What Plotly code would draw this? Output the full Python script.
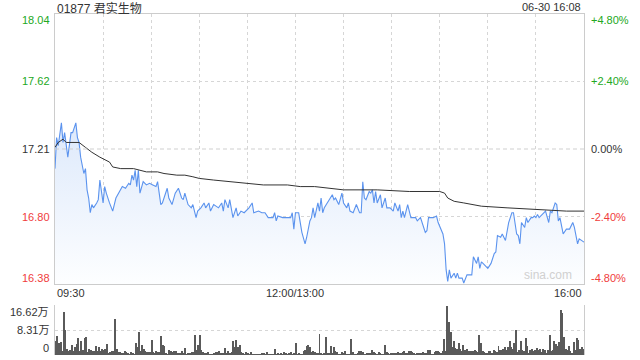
import plotly.graph_objects as go

# ---------------- data ----------------
stock_title = "01877 君实生物"
stamp = "06-30 16:08"
prev_close = 17.21
pct_limit = 0.048
vol_max = 16.62  # 万

x_tick_labels = ["09:30", "12:00/13:00", "16:00"]
x_tick_minutes = [0, 150, 330]

# trading minutes since 09:30 (lunch break removed) and price
price_minutes = [0, 1, 2, 4, 5, 6, 8, 9, 10, 11, 13, 14, 15, 16, 18, 19, 20, 21, 22, 23, 24, 26, 27, 28, 29, 30,
                 31, 32, 34, 36, 38, 41, 42, 44, 46, 47, 48, 49, 50, 51, 52, 53, 55, 57, 59, 61, 63, 64, 66, 67,
                 70, 71, 73, 75, 77, 79, 80, 81, 83, 85, 86, 88, 89, 91, 93, 94, 96, 97, 99, 102, 104, 105, 106,
                 108, 109, 111, 113, 114, 116, 118, 121, 123, 124, 127, 129, 131, 133, 136, 137, 138, 139, 142,
                 144, 147, 148, 149, 150, 152, 153, 154, 156, 157, 159, 160, 161, 162, 164, 165, 166, 167, 168,
                 170, 171, 173, 174, 175, 177, 178, 179, 180, 182, 183, 184, 186, 187, 188, 190, 191, 192, 193,
                 194, 196, 197, 198, 199, 200, 201, 203, 204, 206, 207, 209, 211, 212, 214, 215, 216, 217, 218,
                 220, 221, 222, 225, 226, 228, 230, 231, 232, 233, 236, 238, 239, 241, 242, 243, 244, 245, 246,
                 247, 249, 250, 251, 252, 254, 255, 257, 260, 261, 263, 264, 265, 266, 267, 270, 272, 274, 275,
                 276, 278, 279, 281, 282, 283, 285, 286, 288, 289, 290, 291, 293, 294, 295, 297, 298, 299, 300,
                 301, 302, 305, 306, 308, 309, 310, 312, 313, 314, 315, 317, 319, 321, 323, 324, 326, 327, 330]
price_values = [17.09, 17.28, 17.23, 17.37, 17.25, 17.31, 17.16, 17.25, 17.31, 17.31, 17.37, 17.28, 17.25, 17.16,
                17.06, 17.09, 16.96, 16.91, 16.82, 16.87, 16.85, 16.88, 16.90, 17.02, 16.96, 16.88, 16.98, 16.94,
                16.88, 16.83, 16.91, 16.96, 16.98, 16.97, 17.00, 16.99, 17.05, 17.02, 17.08, 16.98, 17.08, 16.94,
                17.01, 16.99, 17.00, 16.99, 16.98, 17.01, 16.87, 16.88, 16.97, 16.91, 16.87, 16.94, 16.97, 16.91,
                16.90, 16.94, 16.87, 16.85, 16.87, 16.79, 16.83, 16.85, 16.88, 16.85, 16.88, 16.83, 16.87, 16.85,
                16.88, 16.83, 16.90, 16.85, 16.90, 16.79, 16.85, 16.80, 16.83, 16.82, 16.85, 16.88, 16.82, 16.83,
                16.82, 16.82, 16.79, 16.79, 16.82, 16.77, 16.80, 16.79, 16.79, 16.79, 16.82, 16.72, 16.82, 16.82,
                16.76, 16.70, 16.63, 16.67, 16.77, 16.79, 16.85, 16.79, 16.88, 16.83, 16.91, 16.82, 16.85, 16.88,
                16.90, 16.93, 16.90, 16.91, 16.87, 16.91, 16.94, 16.88, 16.85, 16.88, 16.83, 16.82, 16.85, 16.87,
                16.82, 16.82, 17.01, 16.91, 16.90, 16.95, 16.94, 16.96, 16.88, 16.95, 16.88, 16.93, 16.85, 16.91,
                16.85, 16.85, 16.83, 16.88, 16.83, 16.87, 16.79, 16.83, 16.79, 16.87, 16.83, 16.79, 16.79, 16.77,
                16.79, 16.73, 16.70, 16.71, 16.79, 16.79, 16.80, 16.76, 16.71, 16.69, 16.63, 16.47, 16.40, 16.47,
                16.42, 16.45, 16.42, 16.45, 16.42, 16.42, 16.39, 16.44, 16.44, 16.55, 16.51, 16.55, 16.48, 16.52,
                16.51, 16.48, 16.51, 16.57, 16.58, 16.68, 16.67, 16.69, 16.65, 16.71, 16.76, 16.82, 16.82, 16.69,
                16.68, 16.63, 16.76, 16.73, 16.79, 16.76, 16.79, 16.79, 16.80, 16.79, 16.81, 16.79, 16.82, 16.83,
                16.76, 16.83, 16.82, 16.88, 16.87, 16.77, 16.79, 16.69, 16.72, 16.72, 16.76, 16.73, 16.63, 16.66,
                16.64]

avg_minutes = [0, 2, 5, 7, 10, 15, 19, 23, 28, 34, 36, 41, 49, 57, 64, 68, 76, 81, 86, 90, 99, 109, 116, 130,
               145, 153, 162, 180, 201, 221, 240, 243, 245, 249, 255, 261, 266, 282, 302, 319, 330]
avg_values = [17.22, 17.25, 17.27, 17.25, 17.25, 17.25, 17.22, 17.19, 17.16, 17.13, 17.10, 17.09, 17.09, 17.07,
              17.07, 17.06, 17.05, 17.05, 17.04, 17.03, 17.02, 17.01, 17.00, 16.99, 16.99, 16.98, 16.98, 16.96,
              16.96, 16.95, 16.95, 16.94, 16.91, 16.89, 16.88, 16.87, 16.86, 16.85, 16.84, 16.83, 16.83]

# per-minute volume (万股), minute 0 .. 330
volume_values = [
    4.54, 6.43, 3.88, 4.21, 1.44, 14.40, 8.31, 1.99, 1.44, 1.66, 3.43, 1.22, 2.77, 3.66, 5.65, 1.44, 4.54, 1.66, 5.65, 5.87,
    0.9,
    1.99, 1.66, 1.44, 1.22, 3.10, 1.22, 2.77, 1.44, 1.99, 1.66, 1.99, 3.66, 0.55, 0.89, 1.44, 1.44, 11.97, 1.99, 0.89, 0.89,
    0.6,
    0.55, 1.44, 0.89, 0.55, 0.33, 0.89, 0.55, 0.33, 4.10, 2.77, 7.76, 1.44, 3.32, 1.99, 1.44, 1.11, 1.11, 1.11, 4.99, 0.89,
    0.7,
    1.44, 0.89, 0.89, 6.43, 3.43, 3.10, 0.55, 0.33, 1.66, 1.44, 0.89, 1.22, 1.44, 0.55, 0.55, 0.55, 1.22, 0.55, 2.33, 0.33,
    0.5,
    0.55, 0.89, 0.89, 6.65, 1.66, 3.43, 6.65, 1.66, 0.89, 0.55, 0.55, 0.89, 0.33, 0.11, 0.11, 0.55, 0.89, 0.89, 1.22, 0.55,
    0.4,
    0.55, 2.33, 0.55, 1.44, 0.55, 0.89, 4.54, 2.55, 5.10, 2.55, 3.43, 0.89, 0.66, 0.33, 0.89, 0.55, 0.33, 0.89, 0.33, 0.33,
    0.3,
    0.11, 0.33, 0.33, 0.55, 0.55, 0.33, 0.89, 0.33, 0.33, 0.33, 0.33, 1.99, 0.33, 0.55, 0.33, 0.55, 0.33, 0.89, 0.55, 0.33,
    0.4,
    0.89, 0.33, 0.55, 3.88, 0.33, 0.55, 0.33, 0.33, 1.22, 1.66, 3.10, 3.32, 2.55, 1.11, 1.44, 0.89, 0.55,
    0.5,
    6.98, 0.55, 0.33, 0.55, 6.09, 0.55, 0.55, 3.10, 0.55, 2.77, 1.44, 0.89, 0.33, 0.33, 0.89,
    0.4,
    1.22, 0.33, 0.33, 0.33, 5.32, 0.89, 0.33, 0.33, 0.55, 1.22, 1.44, 0.89, 0.33, 0.33, 0.55,
    0.4,
    0.55, 1.66, 0.89, 0.55, 0.33, 0.89, 0.55, 0.33, 0.33, 3.43, 0.89, 0.55, 0.33, 0.55, 0.55,
    0.4,
    0.55, 0.89, 0.55, 0.55, 0.89, 1.44, 0.55, 0.55, 1.44, 1.22, 0.89, 0.55, 0.33, 0.55, 0.55,
    0.4,
    0.55, 0.89, 0.55, 0.55, 1.66, 1.66, 0.33, 0.33, 0.89, 1.22, 1.22, 0.89,
    0.5,
    1.44, 5.32, 1.44, 16.40, 11.08, 7.53, 2.77, 4.76, 2.33, 1.99, 3.88, 1.99, 1.44, 3.43, 1.66, 1.99, 1.44, 1.22,
    1.44, 1.44, 1.66, 1.44, 1.11, 6.76, 3.88, 1.44, 0.89, 0.55,
    0.5,
    1.22, 1.44, 0.55, 1.66, 1.44, 0.89, 3.10, 1.66, 1.66, 1.99, 2.55, 1.66, 2.55, 4.54, 2.55, 1.99, 3.88, 8.31,
    0.89, 1.66, 4.54, 1.66, 1.44, 5.65, 3.10,
    0.6,
    1.66, 1.99, 1.44, 1.66, 2.33, 1.66, 1.99, 0.89, 1.99, 1.66, 0.55, 1.66, 6.76, 1.44, 1.66, 4.54, 3.66, 3.10,
    4.21, 14.96, 13.96, 5.87, 1.99, 1.66, 3.10, 1.44, 0.55, 4.21, 1.66, 5.54, 4.99, 1.99, 2.55, 1.99,
]
volume_minutes = list(range(len(volume_values)))

# ---------------- style ----------------
W, H = 640, 360
PL, PR = 55, 584          # plot left / right (px)
PT, PB = 14, 284          # price panel top / bottom (px)
VT, VB = 305, 355         # volume panel top / bottom (px)
GREEN = "#22a822"
RED = "#f03c3c"
DARK = "#333333"
FONT = "Liberation Sans, Arial, Noto Sans CJK SC, sans-serif"

hi = prev_close * (1 + pct_limit)
lo = prev_close * (1 - pct_limit)
mid_hi = prev_close * (1 + pct_limit / 2)
mid_lo = prev_close * (1 - pct_limit / 2)

fig = go.Figure()

# baseline for the gradient fill
fig.add_trace(go.Scatter(x=price_minutes, y=[lo] * len(price_minutes), mode="lines",
                         line=dict(width=0), hoverinfo="skip", showlegend=False,
                         xaxis="x", yaxis="y"))
fig.add_trace(go.Scatter(x=price_minutes, y=price_values, mode="lines",
                         line=dict(color="#5b93ee", width=1.1), fill="tonexty",
                         fillgradient=dict(type="vertical",
                                           colorscale=[[0, "rgba(253,254,255,1)"],
                                                       [1, "rgba(221,233,251,1)"]]),
                         showlegend=False, xaxis="x", yaxis="y"))
fig.add_trace(go.Scatter(x=avg_minutes, y=avg_values, mode="lines",
                         line=dict(color="#333333", width=1), showlegend=False,
                         xaxis="x", yaxis="y"))
fig.add_trace(go.Bar(x=volume_minutes, y=volume_values, marker=dict(color="#5a5a5a", line=dict(width=0)),
                     width=0.62, showlegend=False, xaxis="x2", yaxis="y2"))

xdom = [PL / W, PR / W]
fig.update_layout(
    width=W, height=H, margin=dict(l=0, r=0, t=0, b=0),
    paper_bgcolor="white", plot_bgcolor="white",
    font=dict(family=FONT, size=11, color=DARK),
    bargap=0,
    xaxis=dict(domain=xdom, range=[0, 330], anchor="y", showticklabels=False, ticks="",
               showgrid=True, dtick=30, tick0=0, gridcolor="#d6d6d6", griddash="dot", gridwidth=1,
               showline=True, linecolor="#cccccc", linewidth=1, mirror=True, zeroline=False),
    yaxis=dict(domain=[1 - PB / H, 1 - PT / H], range=[lo, hi], anchor="x", showticklabels=False,
               ticks="", tickvals=[mid_lo, mid_hi], showgrid=True, gridcolor="#d6d6d6",
               griddash="dot", showline=True, linecolor="#cccccc", linewidth=1, mirror=True,
               zeroline=False),
    xaxis2=dict(domain=xdom, range=[-0.5, 330.5], anchor="y2", showticklabels=False, ticks="",
                showgrid=False, showline=False, zeroline=False),
    yaxis2=dict(domain=[1 - VB / H, 1 - VT / H], range=[0, vol_max], anchor="x2",
                showticklabels=False, ticks="", tickvals=[vol_max / 2, vol_max], showgrid=True,
                gridcolor="#d6d6d6", griddash="dot", showline=True, linecolor="#cccccc",
                linewidth=1, mirror=True, zeroline=False),
)

# previous close dashed line
fig.add_shape(type="line", xref="x", yref="y", x0=0, x1=330, y0=prev_close, y1=prev_close,
              line=dict(color="#cfcfcf", width=1, dash="4px,3px"))

ann = []
# price labels (left) and percent labels (right)
levels = [hi, mid_hi, prev_close, mid_lo, lo]
shifts = [-6, 0, 0, 0, 6]
colors = [GREEN, GREEN, DARK, RED, RED]
for val, sh, col in zip(levels, shifts, colors):
    pct = (val / prev_close - 1) * 100
    pct_txt = f"{pct:+.2f}%" if abs(pct) > 1e-9 else "0.00%"
    ann.append(dict(xref="paper", yref="y", x=(PL - 3) / W, y=val, yshift=sh, text=f"{val:.2f}",
                    xanchor="right", yanchor="middle", showarrow=False, font=dict(color=col, size=11)))
    ann.append(dict(xref="paper", yref="y", x=(PR + 5) / W, y=val, yshift=sh, text=pct_txt,
                    xanchor="left", yanchor="middle", showarrow=False, font=dict(color=col, size=11)))

# volume labels
for val, sh, txt in [(vol_max, -7, f"{vol_max:.2f}万"), (vol_max / 2, 0, f"{vol_max / 2:.2f}万"), (0, 7, "0")]:
    ann.append(dict(xref="paper", yref="y2", x=(PL - 4) / W, y=val, yshift=sh, text=txt,
                    xanchor="right", yanchor="middle", showarrow=False, font=dict(color=DARK, size=11)))

# time labels
anchors = ["left", "center", "right"]
for m, lab, a in zip(x_tick_minutes, x_tick_labels, anchors):
    ann.append(dict(xref="x", yref="paper", x=m, y=1 - 293 / H, text=lab, xanchor=a, yanchor="middle",
                    showarrow=False, font=dict(color=DARK, size=11)))

# titles
ann.append(dict(xref="paper", yref="paper", x=PL / W, y=1 - 8 / H, text=stock_title, xanchor="left",
                yanchor="middle", showarrow=False, font=dict(color=DARK, size=12)))
ann.append(dict(xref="paper", yref="paper", x=(PR - 1) / W, y=1 - 7 / H, text=stamp, xanchor="right",
                yanchor="middle", showarrow=False, font=dict(color=DARK, size=11)))
# watermark
ann.append(dict(xref="paper", yref="paper", x=(PR - 10) / W, y=1 - 275 / H, text="sina.com", xanchor="right",
                yanchor="middle", showarrow=False, font=dict(color="#d0d0d0", size=12)))

fig.update_layout(annotations=ann)
fig.write_html("out.html")
